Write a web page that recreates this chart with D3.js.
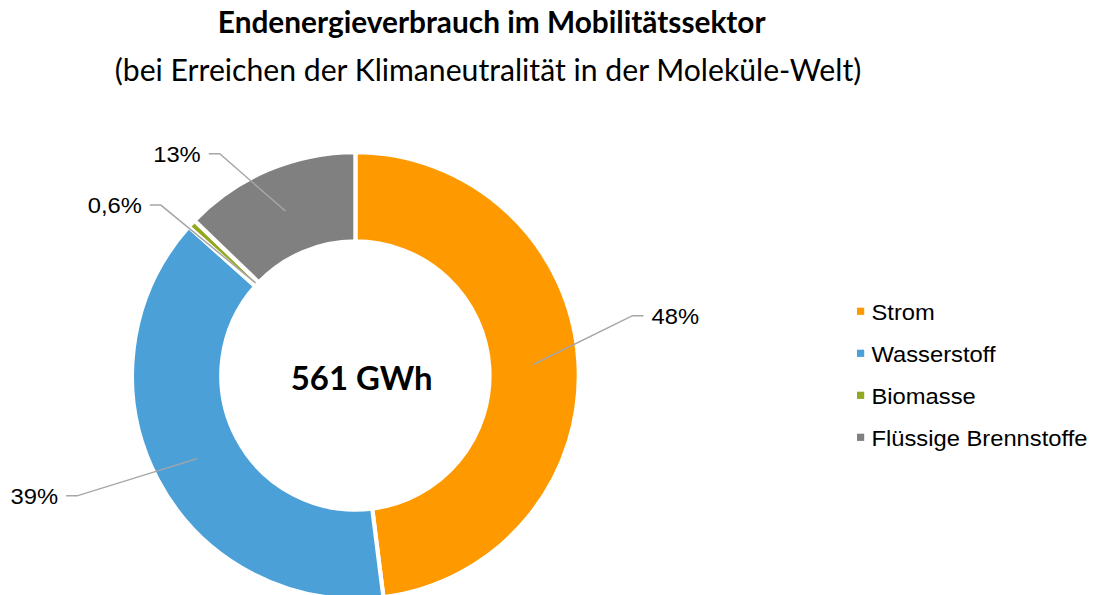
<!DOCTYPE html>
<html><head><meta charset="utf-8">
<script src="https://cdn.jsdelivr.net/npm/d3@7"></script>
<style>
html,body{margin:0;padding:0;background:#fff;}
svg{display:block;}
</style></head>
<body>
<svg id="chart" width="1097" height="595"></svg>
<script>
// ---- data ----
const categories = ["Strom", "Wasserstoff", "Biomasse", "Flüssige Brennstoffe"];
const shares = [48.0, 38.6, 0.6, 12.8];
const shareLabels = ["48%", "39%", "0,6%", "13%"];
const colors = ["#FF9900", "#4BA0D8", "#92A91E", "#808080"];
const totalLabel = "561 GWh";
const titleText = "Endenergieverbrauch im Mobilitätssektor";
const subtitleText = "(bei Erreichen der Klimaneutralität in der Moleküle-Welt)";

// ---- layout ----
const svg = d3.select("#chart");
const cx = 355.4, cy = 375.5;
const gapW = 4.2;
const outerR = 221.3 + gapW / 2, innerR = 136.2 - gapW / 2;
const midR = (221.3 + 136.2) / 2;
const sx = 1.08; // horizontal stretch of the Arial-like texts

function fitText(sel, width) {
  const w = sel.node().getComputedTextLength();
  const fs = parseFloat(sel.attr("font-size"));
  sel.attr("font-size", fs * width / w);
}

const t1 = svg.append("text").attr("x", 491.7).attr("y", 33.3)
  .attr("text-anchor", "middle").attr("font-family", "Lato, 'Open Sans', sans-serif")
  .attr("font-weight", "bold").attr("font-size", 24).attr("fill", "#000").text(titleText);
fitText(t1, 548);
const t2 = svg.append("text").attr("x", 488).attr("y", 81)
  .attr("text-anchor", "middle").attr("font-family", "Lato, 'Open Sans', sans-serif")
  .attr("font-size", 24).attr("fill", "#000").text(subtitleText);
fitText(t2, 747);

const pie = d3.pie().sort(null).value(d => d)
  .startAngle(0).endAngle(2 * Math.PI);
const arcs = pie(shares);
const arc = d3.arc().innerRadius(innerR).outerRadius(outerR);
const midArc = d3.arc().innerRadius(midR).outerRadius(midR);
const innerArc = d3.arc().innerRadius(136.2).outerRadius(136.2);

const g = svg.append("g").attr("transform", `translate(${cx},${cy})`);
g.selectAll("path.slice").data(arcs).join("path")
  .attr("class", "slice")
  .attr("d", arc)
  .attr("fill", (d, i) => colors[i])
  .attr("stroke", "#fff").attr("stroke-width", gapW).attr("stroke-linejoin", "miter");

// center total
const ct = g.append("text").attr("x", 6.3).attr("y", 14.5)
  .attr("text-anchor", "middle").attr("font-family", "Lato, 'Open Sans', sans-serif")
  .attr("font-weight", "bold").attr("font-size", 36).attr("fill", "#000").text(totalLabel);
fitText(ct, 142);

// data labels with leader lines (label placement offsets from anchor point)
const labelNudge = [
  { dx: 98.7, dy: -48.6, side: 1, useInner: false },
  { dx: -120.1, dy: 37.2, side: -1, useInner: false },
  { dx: -94.7, dy: -77.8, side: -1, useInner: true },
  { dx: -65.7, dy: -57.2, side: -1, useInner: false }
];
arcs.forEach((d, i) => {
  const L = labelNudge[i];
  const p0 = (L.useInner ? innerArc : midArc).centroid(d);
  const p1 = [p0[0] + L.dx, p0[1] + L.dy];
  const p2 = [p1[0] + 11 * L.side, p1[1]];
  g.append("polyline")
    .attr("points", [p0, p1, p2].map(p => p.join(",")).join(" "))
    .attr("fill", "none").attr("stroke", "#A6A6A6").attr("stroke-width", 1.5);
  g.append("text")
    .attr("transform", `translate(${p2[0] + 8 * L.side},${p2[1]}) scale(${sx},1)`)
    .attr("dy", "0.36em")
    .attr("text-anchor", L.side > 0 ? "start" : "end")
    .attr("font-family", "'Liberation Sans', Arial, sans-serif")
    .attr("font-size", 22).attr("fill", "#000")
    .text(shareLabels[i]);
});

// legend
const legend = svg.append("g").attr("transform", "translate(857,312.2)");
const rowH = 42;
categories.forEach((c, i) => {
  const row = legend.append("g").attr("transform", `translate(0,${i * rowH})`);
  row.append("rect").attr("x", 0).attr("y", -4.5).attr("width", 7.2).attr("height", 7.2)
    .attr("fill", colors[i]);
  row.append("text").attr("transform", `translate(14.5,0) scale(${sx},1)`).attr("dy", "0.36em")
    .attr("font-family", "'Liberation Sans', Arial, sans-serif")
    .attr("font-size", 22).attr("fill", "#000").text(c);
});
</script>
</body></html>
